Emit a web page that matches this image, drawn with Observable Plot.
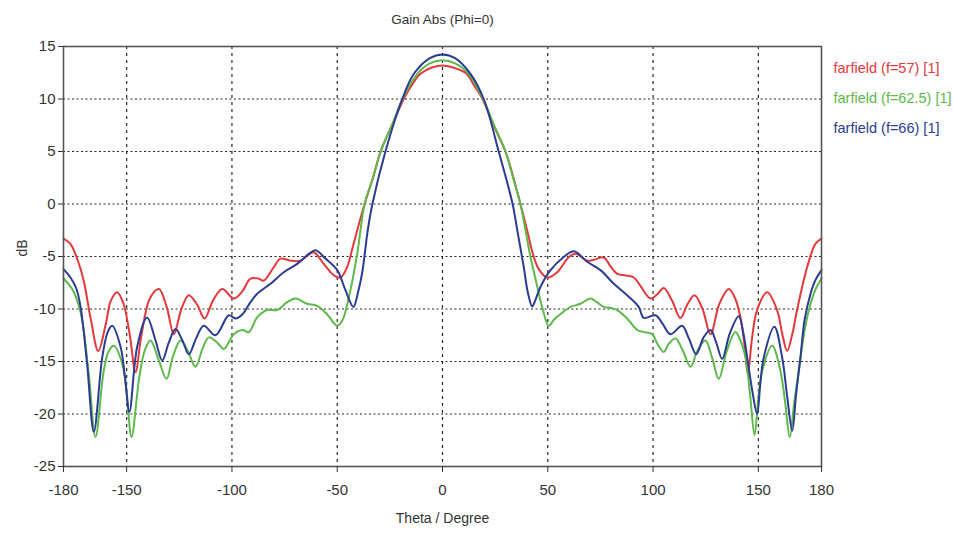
<!DOCTYPE html>
<html>
<head>
<meta charset="utf-8">
<script src="https://cdn.jsdelivr.net/npm/d3@7"></script>
<script src="https://cdn.jsdelivr.net/npm/@observablehq/plot@0.6"></script>
<style>
  html, body { margin: 0; padding: 0; background: #fff; }
  #chart { width: 953px; height: 538px; }
</style>
</head>
<body>
<div id="chart"></div>
<script>
const title = "Gain Abs (Phi=0)";
const xLabel = "Theta / Degree";
const yLabel = "dB";
const xTicks = [-180, -150, -100, -50, 0, 50, 100, 150, 180];
const yTicks = [-25, -20, -15, -10, -5, 0, 5, 10, 15];
const seriesNames = ["farfield (f=57) [1]", "farfield (f=62.5) [1]", "farfield (f=66) [1]"];
const seriesColors = ["#e3383c", "#5cb94a", "#2b3c94"];

// farfield f=57
const theta57 = [-180,-176.7,-173,-170.4,-167,-163.5,-160,-157.5,-154.5,-151.5,-148.5,-145.8,-143,-139,-134.7,-131,-127.6,-124,-120.5,-116.5,-113,-109,-104.6,-99.1,-95,-91.2,-87.5,-84.9,-80.1,-77,-72.2,-67.4,-64,-61.1,-56.4,-51.6,-48.4,-45.3,-42.5,-40.5,-37,-33,-29.4,-24,-18.4,-14,-10.5,-5,0,5,11.4,15,19,24,29.9,33,37,40.2,43,45.7,49.7,54.5,60,63.2,68.7,72,76.6,80,83,87,90.9,94,98.8,102,105.1,109,113,116.5,119.7,123.5,127.3,131.5,136,139,141.5,143.5,145,147,149.4,154.2,158.9,161.5,163.7,166,168.4,173.2,177.1,180];
const gain57 = [-3.3,-3.8,-5.5,-7.3,-11.0,-14.0,-11.5,-9.2,-8.4,-9.5,-12.5,-16.0,-12.5,-9.0,-8.1,-9.8,-12.4,-10.0,-8.7,-9.6,-10.9,-9.2,-8.1,-9.0,-8.3,-7.1,-7.1,-7.3,-6.0,-5.2,-5.4,-5.4,-4.9,-4.6,-5.7,-6.8,-7.0,-6.0,-4.0,-2.5,0,2.5,5.0,7.5,10.0,11.5,12.4,13.0,13.2,13.0,12.4,11.3,10.0,7.6,5.0,3.0,0,-2.5,-4.8,-6.2,-7.0,-6.5,-5.05,-4.75,-5.4,-5.3,-5.1,-6.0,-6.65,-6.8,-7.0,-7.8,-9.0,-8.6,-8.0,-9.2,-10.85,-9.5,-8.7,-10.0,-12.4,-9.5,-8.1,-9.0,-10.8,-13.5,-16.2,-12.8,-10.1,-8.4,-10.1,-12.5,-14.0,-12.5,-10.1,-6.0,-3.8,-3.3];

// farfield f=62.5
const theta625 = [-180,-175.9,-173,-171.1,-168,-164.8,-160.9,-158.5,-156.1,-152.1,-150,-147.7,-144.2,-141.5,-138.7,-134.7,-131.1,-128,-124.4,-121,-117.3,-114,-111,-107,-103.9,-99.1,-95,-92,-88,-83.3,-78.5,-73.8,-69.8,-64.3,-59.5,-54.8,-50,-47.6,-44.5,-40.5,-37,-33,-29.4,-24,-19,-12,-6,0,6,12.4,19.2,24.5,29.9,33.5,37,41.8,44.6,47.3,50.5,53,56,60.8,65.5,70.3,73,76.6,80,83,87.7,92.5,95.6,99.6,102,105.1,107.5,110.7,114,117.8,121,124.9,128,131.2,135,139.1,141.5,143.9,146,148.2,150,151.8,156.6,160.5,162.8,164.9,167,169.2,172,174.8,177,180];
const gain625 = [-7.1,-8.1,-9.5,-11.1,-16.2,-22.2,-15.9,-14.0,-13.5,-15.2,-18.0,-22.2,-16.8,-14.0,-13.0,-14.9,-16.65,-14.5,-13.0,-14.0,-15.5,-13.8,-12.7,-13.2,-13.8,-12.4,-12.0,-12.2,-10.8,-10.1,-10.1,-9.35,-9.0,-9.5,-9.7,-10.5,-11.6,-11.1,-8.9,-4.75,0,2.5,5.0,7.5,10.0,12.4,13.4,13.7,13.4,12.4,10.0,7.5,5.0,2.5,0,-5.05,-7.5,-9.8,-11.6,-11.0,-10.5,-9.8,-9.5,-9.0,-9.3,-9.8,-9.9,-10.1,-10.9,-12.0,-12.2,-12.4,-13.3,-14.1,-13.3,-12.8,-13.9,-15.5,-14.0,-13.0,-14.6,-16.65,-14.0,-12.2,-13.0,-14.6,-18.0,-22.0,-18.5,-15.9,-13.5,-15.9,-19.0,-22.2,-19.0,-15.9,-12.0,-9.5,-8.2,-7.1];

// farfield f=66
const theta66 = [-180,-176.7,-174,-171.9,-168.8,-165.6,-161.6,-159,-156.9,-152.9,-150.8,-148.7,-145,-140.3,-136.3,-133.1,-130,-126.8,-123.5,-120.5,-117,-113.4,-107.8,-101.5,-98.3,-95,-91.2,-88,-81.7,-75.4,-69,-63.5,-60.3,-55.6,-50,-46.1,-42.3,-40,-38.1,-35.5,-33.3,-27.1,-19.1,-13.6,-6,0,6,13.3,19.6,26.7,33.3,35.5,38.6,40.5,42.6,44,46.5,51.3,57.6,62.4,68.7,75,81.4,87.7,93.2,95.6,101.2,104.5,108.3,113.8,117,120.5,124,127.3,130,132.8,136.5,140.7,142.8,144.7,147.3,149.4,151,152.6,157.6,161.3,163.8,166.1,168,170,172,174.8,177,180];
const gain66 = [-6.2,-7.0,-8.0,-9.8,-15.2,-21.7,-14.6,-12.2,-11.6,-13.6,-16.5,-19.8,-13.6,-10.8,-13.0,-14.9,-13.2,-11.9,-13.0,-14.3,-12.8,-11.6,-12.5,-10.6,-10.9,-10.5,-9.35,-8.55,-7.6,-6.5,-5.7,-4.75,-4.4,-5.2,-6.3,-8.2,-9.8,-8.3,-6.5,-2.5,0,5.0,10.0,12.4,13.9,14.25,13.9,12.4,10.0,5.0,0,-2.5,-6.0,-8.4,-9.76,-9.2,-7.9,-6.3,-5.05,-4.5,-5.5,-6.3,-7.6,-8.7,-9.8,-10.85,-10.6,-11.4,-12.4,-11.6,-12.8,-14.3,-12.7,-12.0,-13.2,-14.75,-12.3,-10.7,-12.2,-14.6,-18.0,-20.0,-17.0,-14.6,-11.7,-14.6,-18.5,-21.6,-18.0,-14.6,-11.0,-8.55,-7.3,-6.3];

const seriesTheta = [theta57, theta625, theta66];
const seriesGain = [gain57, gain625, gain66];

const rows = [];
seriesNames.forEach((name, i) => {
  seriesTheta[i].forEach((t, j) => rows.push({series: name, theta: t, gain: seriesGain[i][j]}));
});

const font = "'Liberation Sans', Arial, sans-serif";

const legendMarks = seriesNames.map((name, i) =>
  Plot.text([name], {
    frameAnchor: "top-right", dx: 12, dy: 16 + i * 30,
    textAnchor: "start", fill: seriesColors[i], fontSize: 14.5
  })
);

const chart = Plot.plot({
  width: 953,
  height: 538,
  marginLeft: 63,
  marginRight: 132,
  marginTop: 46,
  marginBottom: 72,
  style: { fontFamily: font, background: "#fff", color: "#333" },
  x: { domain: [-180, 180], axis: null },
  y: { domain: [-25, 15], axis: null },
  color: { domain: seriesNames, range: seriesColors },
  marks: [
    Plot.gridY(yTicks.filter(d => d > -25 && d < 15), { stroke: "#111", strokeOpacity: 0.9, strokeDasharray: "2,2.5", strokeWidth: 1.2 }),
    Plot.gridX(xTicks.filter(d => d > -180 && d < 180), { stroke: "#111", strokeOpacity: 0.9, strokeDasharray: "3,4", strokeWidth: 1.2 }),
    Plot.line(rows, { x: "theta", y: "gain", z: "series", stroke: "series", strokeWidth: 2, curve: "catmull-rom" }),
    Plot.frame({ stroke: "#555", strokeWidth: 1.6 }),
    Plot.axisX({ ticks: xTicks, tickSize: 6, tickPadding: 12, fontSize: 15, label: null, tickFormat: d => String(d), stroke: "#333" }),
    Plot.axisY({ ticks: yTicks, tickSize: 5, tickPadding: 3, fontSize: 15, label: null, tickFormat: d => String(d), stroke: "#333" }),
    Plot.text([title], { frameAnchor: "top", dy: -32, fontSize: 13.5, fill: "#333" }),
    Plot.text([xLabel], { frameAnchor: "bottom", dy: 56, fontSize: 14, fill: "#333" }),
    Plot.text([yLabel], { frameAnchor: "left", dx: -41, rotate: -90, fontSize: 14, fill: "#333" }),
    ...legendMarks
  ]
});
document.getElementById("chart").appendChild(chart);
</script>
</body>
</html>
